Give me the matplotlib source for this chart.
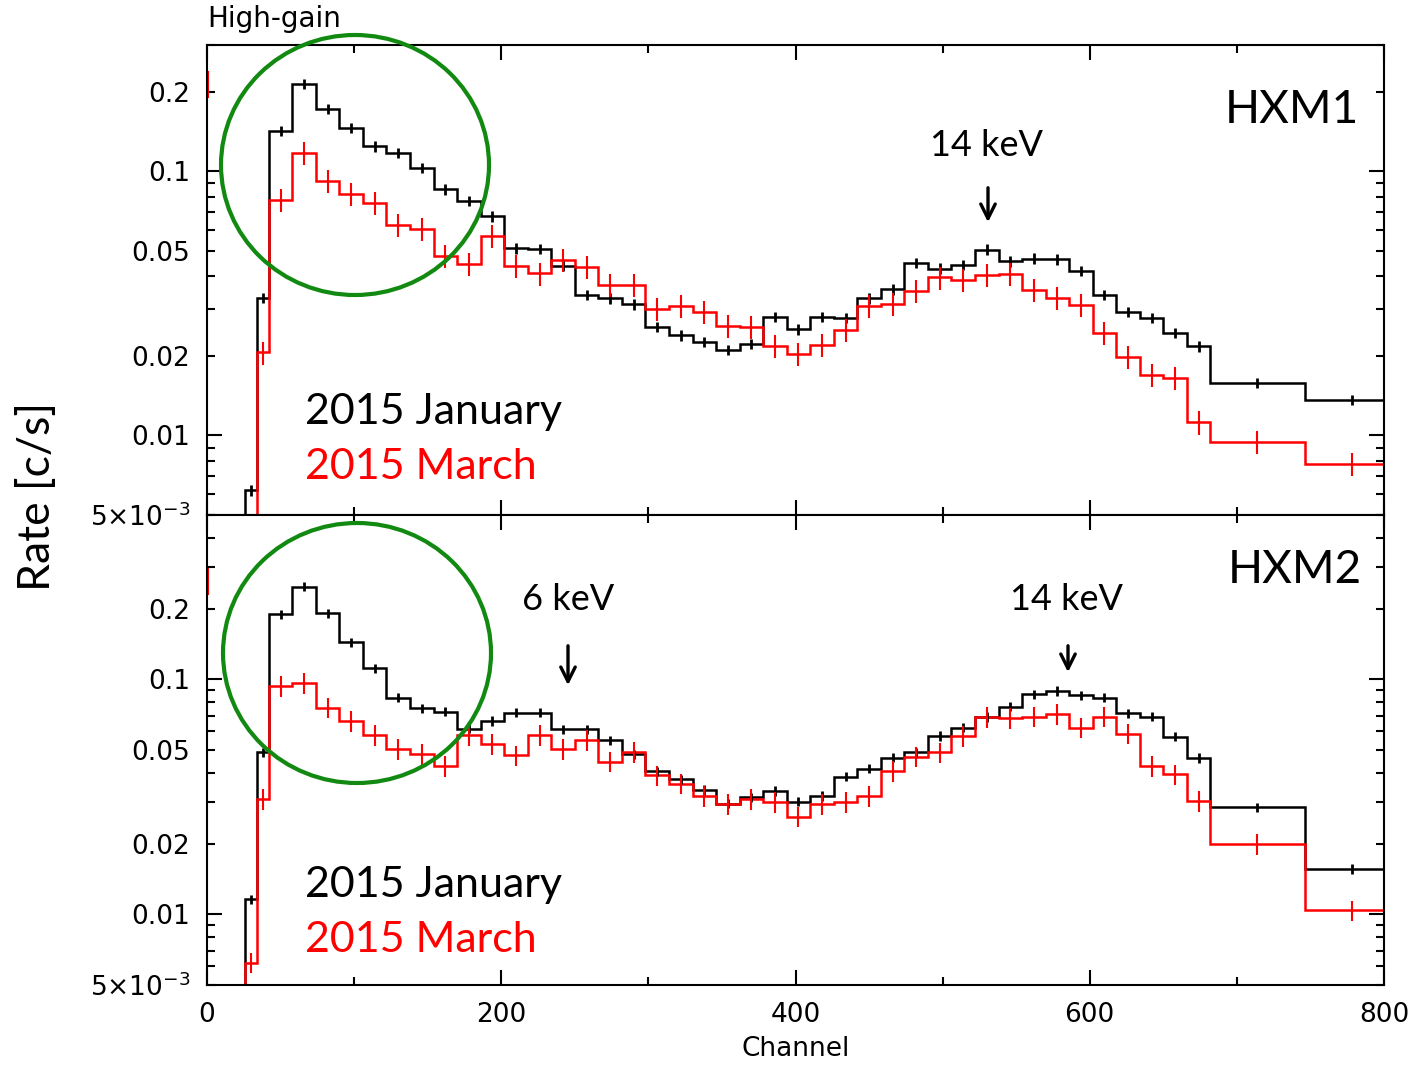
import numpy as np
import matplotlib.pyplot as plt
from matplotlib.patches import Ellipse
from matplotlib.ticker import FixedLocator, FuncFormatter

# bin edges (channel)
edges = np.concatenate([[26, 34], np.arange(42, 683, 16), [746, 810]])

# HXM1 rates [c/s]
hxm1_jan = [0.0062, 0.0331, 0.142, 0.2135, 0.172, 0.146, 0.124, 0.117, 0.1026, 0.0852,
            0.077, 0.0675, 0.051, 0.0507, 0.0437, 0.034, 0.033, 0.0313, 0.0257, 0.0239,
            0.0226, 0.0211, 0.0222, 0.0281, 0.0252, 0.0281, 0.0278, 0.033, 0.0357, 0.045,
            0.0428, 0.0441, 0.0505, 0.0456, 0.0467, 0.0464, 0.0419, 0.0341, 0.0293, 0.0279,
            0.0245, 0.0217, 0.0158, 0.0136]
hxm1_mar = [0.003, 0.0206, 0.0777, 0.117, 0.0917, 0.0818, 0.0759, 0.0624, 0.0603, 0.0477,
            0.0444, 0.0569, 0.0437, 0.041, 0.046, 0.0434, 0.0372, 0.0372, 0.0302, 0.0308,
            0.0293, 0.026, 0.0257, 0.0218, 0.0204, 0.022, 0.025, 0.0308, 0.0315, 0.0352,
            0.0396, 0.0387, 0.0404, 0.0407, 0.0356, 0.033, 0.0311, 0.0244, 0.0198, 0.017,
            0.0165, 0.0112, 0.00944, 0.00782]

# HXM2 rates [c/s]
hxm2_jan = [0.0116, 0.049, 0.189, 0.248, 0.191, 0.144, 0.1114, 0.0836, 0.0753, 0.0729,
            0.0617, 0.0665, 0.0722, 0.0722, 0.0613, 0.0613, 0.055, 0.048, 0.0407, 0.0375,
            0.0338, 0.0296, 0.0314, 0.0335, 0.0301, 0.0319, 0.0385, 0.0416, 0.0464, 0.0488,
            0.0574, 0.0623, 0.0691, 0.0765, 0.0863, 0.0892, 0.0855, 0.0836, 0.0717, 0.0694,
            0.057, 0.0463, 0.0286, 0.0156]
hxm2_mar = [0.00623, 0.0309, 0.0937, 0.0962, 0.0758, 0.0665, 0.0578, 0.0504, 0.048, 0.0428,
            0.0578, 0.053, 0.0475, 0.0578, 0.0504, 0.0552, 0.0446, 0.049, 0.039, 0.036,
            0.0319, 0.0294, 0.0309, 0.0301, 0.026, 0.0294, 0.03, 0.0319, 0.0407, 0.0469,
            0.0488, 0.0574, 0.0691, 0.0684, 0.0694, 0.071, 0.0623, 0.0694, 0.0587, 0.0428,
            0.0394, 0.0304, 0.0199, 0.0104]

# relative errors
err_jan = 0.045
err_mar = 0.1

# red marks at channel 0 (low, high)
hxm1_zero = [0.191, 0.238]
hxm2_zero = [0.23, 0.294]

W, H = 1416, 1066
fig = plt.figure(figsize=(W / 100, H / 100), dpi=100)
ax1 = fig.add_axes([207 / W, 1 - 515 / H, 1177 / W, 470 / H])
ax2 = fig.add_axes([207 / W, 1 - 985 / H, 1177 / W, 470 / H], sharex=ax1)

centers = (edges[:-1] + edges[1:]) / 2

ylabels = {0.005: r'$5{\times}10^{-3}$', 0.01: '0.01', 0.02: '0.02',
           0.05: '0.05', 0.1: '0.1', 0.2: '0.2'}


def fmt(v, pos):
    for k, s in ylabels.items():
        if abs(v - k) / k < 1e-6:
            return s
    return ''


minors = [m * d for d in [0.001, 0.01, 0.1] for m in range(2, 10)]

panels = [(ax1, hxm1_jan, hxm1_mar, hxm1_zero, (5e-3, 0.3)),
          (ax2, hxm2_jan, hxm2_mar, hxm2_zero, (5e-3, 0.5))]
for ax, jan, mar, zero, ylim in panels:
    jan = np.array(jan)
    mar = np.array(mar)
    ax.stairs(jan, edges, baseline=1e-4, color='black', lw=1.8)
    ax.errorbar(centers, jan, yerr=jan * err_jan, fmt='none', ecolor='black', elinewidth=2)
    ax.stairs(mar, edges, baseline=1e-4, color='red', lw=1.8)
    ax.errorbar(centers, mar, yerr=mar * err_mar, fmt='none', ecolor='red', elinewidth=1.5)
    ax.plot([0.5, 0.5], zero, color='red', lw=1.5, clip_on=False)
    ax.set_yscale('log')
    ax.set_ylim(*ylim)
    ax.set_xlim(0, 800)
    ax.yaxis.set_major_locator(FixedLocator([0.01, 0.1]))
    ax.yaxis.set_minor_locator(FixedLocator(minors))
    ax.yaxis.set_major_formatter(FuncFormatter(fmt))
    ax.yaxis.set_minor_formatter(FuncFormatter(fmt))
    ax.xaxis.set_major_locator(FixedLocator([0, 200, 400, 600, 800]))
    ax.xaxis.set_minor_locator(FixedLocator([100, 300, 500, 700]))
    ax.tick_params(which='both', direction='in', top=True, right=True, width=1.5,
                   labelsize=19, pad=12)
    ax.tick_params(which='major', length=11)
    ax.tick_params(which='minor', length=5.5)
    for s in ax.spines.values():
        s.set_linewidth(1.5)

ax1.tick_params(labelbottom=False)
ax2.set_xlabel('Channel', fontsize=19, labelpad=6)

# header and y label
fig.text(207 / W, 1 - 33 / H, 'High-gain', fontsize=20, ha='left', va='bottom')
fig.text(38 / W, 1 - 497 / H, 'Rate [c/s]', fontsize=32, family='Lato',
         rotation=90, ha='center', va='center')

ann = dict(family='Lato', ha='center', va='center')
fig.text(1292 / W, 1 - 110 / H, 'HXM1', fontsize=33, **ann)
fig.text(1295 / W, 1 - 570 / H, 'HXM2', fontsize=33, **ann)
fig.text(987 / W, 1 - 145 / H, '14 keV', fontsize=26, **ann)
fig.text(568 / W, 1 - 600 / H, '6 keV', fontsize=26, **ann)
fig.text(1067 / W, 1 - 600 / H, '14 keV', fontsize=26, **ann)

arrows = [(988, 185, 225), (568, 643, 688), (1068, 643, 675)]
for x, y0, y1 in arrows:
    fig.add_artist(plt.Annotation('', xy=(x / W, 1 - y1 / H), xytext=(x / W, 1 - y0 / H),
                                  xycoords='figure fraction',
                                  arrowprops=dict(arrowstyle='->', lw=2.4, color='black',
                                                  mutation_scale=26)))

for y0 in [412, 885]:
    fig.text(305 / W, 1 - y0 / H, '2015 January', fontsize=31, family='Lato',
             color='black', ha='left', va='center')
    fig.text(305 / W, 1 - (y0 + 55) / H, '2015 March', fontsize=31, family='Lato',
             color='red', ha='left', va='center')

# green circles
for cx, cy in [(355, 165), (357, 653)]:
    fig.add_artist(Ellipse((cx / W, 1 - cy / H), 268 / W, 260 / H, fill=False,
                           edgecolor='#128a12', lw=3, transform=fig.transFigure))

fig.savefig('out.png', dpi=100)
